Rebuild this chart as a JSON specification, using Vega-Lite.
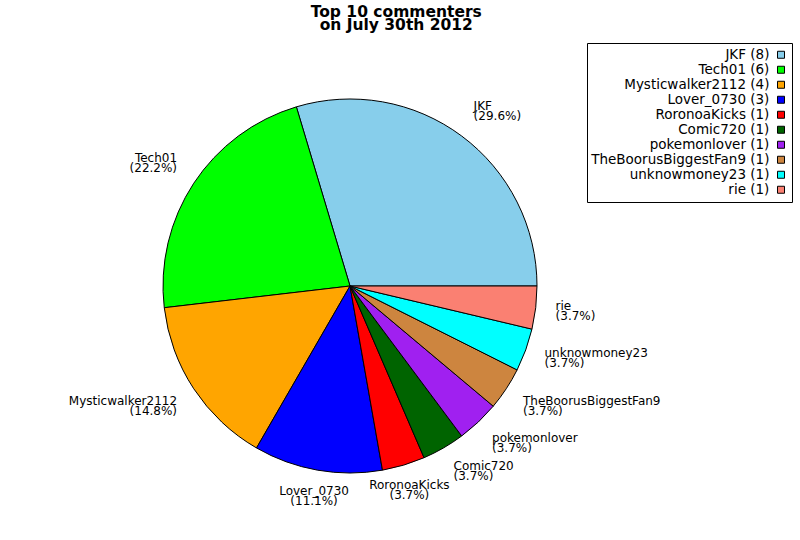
{
  "$schema": "https://vega.github.io/schema/vega-lite/v6.json",
  "width": 700,
  "height": 510,
  "padding": {"left": 0, "top": 4, "right": 0, "bottom": 0},
  "autosize": {"type": "pad"},
  "background": "white",
  "title": {
    "text": ["Top 10 commenters", "on July 30th 2012"],
    "font": "DejaVu Sans",
    "fontSize": 15.5,
    "fontWeight": "bold",
    "color": "black",
    "lineHeight": 13,
    "anchor": "middle",
    "frame": "bounds",
    "offset": -2
  },
  "data": {
    "values": [
      {"rank": 1, "name": "JKF", "count": 8, "legend": "JKF (8)", "label": "JKF\n(29.6%)"},
      {"rank": 2, "name": "Tech01", "count": 6, "legend": "Tech01 (6)", "label": "Tech01\n(22.2%)"},
      {"rank": 3, "name": "Mysticwalker2112", "count": 4, "legend": "Mysticwalker2112 (4)", "label": "Mysticwalker2112\n(14.8%)"},
      {"rank": 4, "name": "Lover_0730", "count": 3, "legend": "Lover_0730 (3)", "label": "Lover_0730\n(11.1%)"},
      {"rank": 5, "name": "RoronoaKicks", "count": 1, "legend": "RoronoaKicks (1)", "label": "RoronoaKicks\n(3.7%)"},
      {"rank": 6, "name": "Comic720", "count": 1, "legend": "Comic720 (1)", "label": "Comic720\n(3.7%)"},
      {"rank": 7, "name": "pokemonlover", "count": 1, "legend": "pokemonlover (1)", "label": "pokemonlover\n(3.7%)"},
      {"rank": 8, "name": "TheBoorusBiggestFan9", "count": 1, "legend": "TheBoorusBiggestFan9 (1)", "label": "TheBoorusBiggestFan9\n(3.7%)"},
      {"rank": 9, "name": "unknowmoney23", "count": 1, "legend": "unknowmoney23 (1)", "label": "unknowmoney23\n(3.7%)"},
      {"rank": 10, "name": "rie", "count": 1, "legend": "rie (1)", "label": "rie\n(3.7%)"}
    ]
  },
  "transform": [
    {"joinaggregate": [{"op": "sum", "field": "count", "as": "total"}]}
  ],
  "encoding": {
    "theta": {
      "field": "count",
      "type": "quantitative",
      "stack": true,
      "scale": {"range": [1.5707963268, -4.7123889804]}
    },
    "order": {"field": "rank", "type": "quantitative"}
  },
  "layer": [
    {
      "mark": {"type": "arc", "outerRadius": 187, "stroke": "black", "strokeWidth": 1},
      "encoding": {
        "color": {
          "field": "legend",
          "type": "nominal",
          "sort": null,
          "scale": {
            "range": ["#87ceeb", "#00ff00", "#ffa500", "#0000ff", "#ff0000", "#006400", "#a020f0", "#cd853f", "#00ffff", "#fa8072"]
          },
          "legend": {
            "title": null,
            "orient": "none",
            "legendX": 587,
            "legendY": 12,
            "direction": "vertical",
            "labelAlign": "right",
            "labelOffset": -18.35,
            "symbolOffset": 182.25,
            "labelLimit": 400,
            "labelFont": "DejaVu Sans",
            "labelFontSize": 13.5,
            "labelColor": "black",
            "symbolType": "square",
            "symbolSize": 49,
            "symbolStrokeColor": "black",
            "symbolStrokeWidth": 1,
            "symbolOpacity": 1,
            "rowPadding": 0,
            "padding": 5,
            "strokeColor": "black",
            "fillColor": "white",
            "cornerRadius": 0
          }
        }
      }
    },
    {
      "mark": {
        "type": "text",
        "radius": 207,
        "dy": {"expr": "sin(PI*(datum.count_start+datum.count_end)/datum.total) > 0.4 ? -7 : -4"},
        "font": "DejaVu Sans",
        "fontSize": 12,
        "lineHeight": 10,
        "lineBreak": "\n",
        "color": "black",
        "align": {"expr": "cos(PI*(datum.count_start+datum.count_end)/datum.total) > 0.4 ? 'left' : (cos(PI*(datum.count_start+datum.count_end)/datum.total) < -0.4 ? 'right' : 'center')"},
        "baseline": {"expr": "sin(PI*(datum.count_start+datum.count_end)/datum.total) > 0.4 ? 'bottom' : (sin(PI*(datum.count_start+datum.count_end)/datum.total) < -0.4 ? 'top' : 'middle')"}
      },
      "encoding": {
        "text": {"field": "label", "type": "nominal"}
      }
    }
  ],
  "config": {"view": {"stroke": null}}
}
